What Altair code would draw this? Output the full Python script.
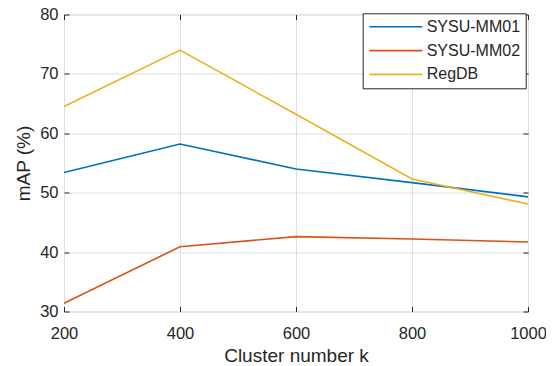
import altair as alt
import pandas as pd

k_values = [200, 400, 600, 800, 1000]
series_names = ["SYSU-MM01", "SYSU-MM02", "RegDB"]
sysu_mm01 = [53.4, 58.2, 54.0, 51.7, 49.3]
sysu_mm02 = [31.4, 40.9, 42.6, 42.2, 41.7]
regdb = [64.5, 74.0, 63.2, 52.3, 48.1]
colors = ["#0072BD", "#D95319", "#EDB120"]
x_ticks = [200, 400, 600, 800, 1000]
y_ticks = [30, 40, 50, 60, 70, 80]

rows = []
for name, vals in zip(series_names, [sysu_mm01, sysu_mm02, regdb]):
    for k, v in zip(k_values, vals):
        rows.append({"k": k, "mAP": v, "series": name})
df = pd.DataFrame(rows)

FONT = "Liberation Sans"
TXT = "#262626"

xscale = alt.Scale(domain=[200, 1000], nice=False, zero=False)
yscale = alt.Scale(domain=[30, 80], nice=False, zero=False)

main = alt.Chart(df).mark_line(strokeWidth=1.6).encode(
    x=alt.X("k:Q", scale=xscale, title="Cluster number k",
            axis=alt.Axis(values=x_ticks, format="d", orient="bottom", ticks=False, tickSize=0,
                          domain=False, grid=True, gridColor="#dfdfdf", gridWidth=1,
                          labelFlush=False, labelOverlap=False,
                          labelFont=FONT, labelFontSize=16.5, labelColor=TXT,
                          labelPadding=14, titleFont=FONT, titleFontSize=19,
                          titleFontWeight="normal", titleColor=TXT, titlePadding=4)),
    y=alt.Y("mAP:Q", scale=yscale, title="mAP (%)",
            axis=alt.Axis(values=y_ticks, format="d", orient="left", ticks=False, tickSize=0,
                          domain=False, grid=True, gridColor="#dfdfdf", gridWidth=1,
                          labelFlush=False, labelOverlap=False,
                          labelFont=FONT, labelFontSize=16.5, labelColor=TXT,
                          labelPadding=6, titleFont=FONT, titleFontSize=19,
                          titleFontWeight="normal", titleColor=TXT, titlePadding=6)),
    color=alt.Color("series:N",
                    scale=alt.Scale(domain=series_names, range=colors),
                    sort=series_names,
                    legend=alt.Legend(orient="none", legendX=298.7, legendY=-1.2, title=None,
                                      symbolType="M-1.302,0H8.698", symbolSize=112.36,
                                      symbolStrokeWidth=1.6, labelFont=FONT,
                                      labelFontSize=16, labelColor=TXT, labelOffset=42.5,
                                      padding=5.5, rowPadding=7.8, strokeColor=TXT,
                                      fillColor="white", cornerRadius=0)),
)

def tick_layer(xorient, yorient):
    return alt.Chart(df).mark_line(strokeOpacity=0).encode(
        x=alt.X("k:Q", scale=xscale, title=None,
                axis=alt.Axis(values=x_ticks, orient=xorient, offset=-5, ticks=True,
                              tickSize=5, tickColor=TXT, tickWidth=1, labels=False,
                              domain=False, grid=False)),
        y=alt.Y("mAP:Q", scale=yscale, title=None,
                axis=alt.Axis(values=y_ticks, orient=yorient, offset=-5, ticks=True,
                              tickSize=5, tickColor=TXT, tickWidth=1, labels=False,
                              domain=False, grid=False)),
        detail="series:N",
    )

chart = alt.layer(
    main, tick_layer("bottom", "left"), tick_layer("top", "right")
).resolve_axis(x="independent", y="independent").properties(
    width=464, height=297,
    autosize=alt.AutoSizeParams(type="none"),
    padding={"left": 56, "top": 6.5, "right": 18, "bottom": 53},
).configure_view(stroke=TXT, strokeWidth=1).configure(background="white")

chart.save("out.html", embed_options={"renderer": "svg", "actions": False})
